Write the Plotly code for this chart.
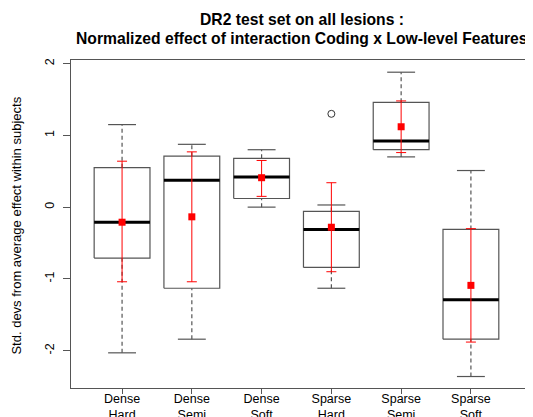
import plotly.graph_objects as go

categories = ["Dense<br>Hard", "Dense<br>Semi", "Dense<br>Soft",
              "Sparse<br>Hard", "Sparse<br>Semi", "Sparse<br>Soft"]
upper_whisker = [1.15, 0.875, 0.80, 0.03, 1.88, 0.51]
q3 = [0.55, 0.71, 0.68, -0.06, 1.46, -0.31]
median = [-0.21, 0.375, 0.42, -0.31, 0.92, -1.29]
q1 = [-0.71, -1.13, 0.12, -0.84, 0.80, -1.84]
lower_whisker = [-2.03, -1.84, 0.0, -1.13, 0.70, -2.36]
means = [-0.21, -0.135, 0.41, -0.28, 1.12, -1.09]
err_hi = [0.64, 0.77, 0.65, 0.34, 1.48, -0.30]
err_lo = [-1.04, -1.04, 0.15, -0.90, 0.76, -1.88]
outlier_cat = [3]          # index of Sparse Hard
outlier_val = [1.30]
y_ticks = [-2, -1, 0, 1, 2]
title_lines = ["DR2 test set on all lesions :",
               "Normalized effect of interaction Coding x Low-level Features"]
y_title = "Std. devs from average effect within subjects"

BOX_HALF = 0.4
STAPLE_HALF = 0.2
FRAME = "#555555"
FONT = "Liberation Sans, Arial, sans-serif"

fig = go.Figure()
xs = list(range(1, len(categories) + 1))

# box outlines
bx, by = [], []
for x, lo, hi in zip(xs, q1, q3):
    bx += [x - BOX_HALF, x + BOX_HALF, x + BOX_HALF, x - BOX_HALF, x - BOX_HALF, None]
    by += [lo, lo, hi, hi, lo, None]
fig.add_trace(go.Scatter(x=bx, y=by, mode="lines", line=dict(color=FRAME, width=1.2),
                         hoverinfo="skip", showlegend=False))

# whiskers (dashed)
wx, wy = [], []
for x, lo, a, b, hi in zip(xs, lower_whisker, q1, q3, upper_whisker):
    wx += [x, x, None, x, x, None]
    wy += [lo, a, None, b, hi, None]
fig.add_trace(go.Scatter(x=wx, y=wy, mode="lines", line=dict(color=FRAME, width=1.2, dash="4px,3px"),
                         hoverinfo="skip", showlegend=False))

# staples
sx, sy = [], []
for x, lo, hi in zip(xs, lower_whisker, upper_whisker):
    sx += [x - STAPLE_HALF, x + STAPLE_HALF, None, x - STAPLE_HALF, x + STAPLE_HALF, None]
    sy += [lo, lo, None, hi, hi, None]
fig.add_trace(go.Scatter(x=sx, y=sy, mode="lines", line=dict(color=FRAME, width=1.2),
                         hoverinfo="skip", showlegend=False))

# medians
mx, my = [], []
for x, m in zip(xs, median):
    mx += [x - BOX_HALF, x + BOX_HALF, None]
    my += [m, m, None]
fig.add_trace(go.Scatter(x=mx, y=my, mode="lines", line=dict(color="black", width=3),
                         hoverinfo="skip", showlegend=False))

# outliers
fig.add_trace(go.Scatter(x=[xs[i] for i in outlier_cat], y=outlier_val, mode="markers",
                         marker=dict(symbol="circle-open", size=7, color="#333333", line=dict(width=1)),
                         showlegend=False))

# means with error bars
fig.add_trace(go.Scatter(
    x=xs, y=means, mode="markers",
    marker=dict(symbol="square", size=7, color="red"),
    error_y=dict(type="data", symmetric=False,
                 array=[h - m for h, m in zip(err_hi, means)],
                 arrayminus=[m - l for m, l in zip(means, err_lo)],
                 color="red", thickness=1, width=5),
    showlegend=False))

# page has an 8px body margin: figure is 525x409 so it fits the 533x417 window
fig.update_layout(
    width=525, height=409,
    margin=dict(l=63, r=0, t=52, b=29, autoexpand=False),
    paper_bgcolor="white", plot_bgcolor="white",
    font=dict(family=FONT, size=12.5, color="black"),
    showlegend=False,
)
fig.update_xaxes(range=[0.268, 6.89], tickmode="array", tickvals=xs, ticktext=categories,
                 automargin=False,
                 showgrid=False, zeroline=False, showline=True, linecolor=FRAME, linewidth=1.2,
                 mirror=True, ticks="outside", ticklen=5, tickcolor=FRAME,
                 ticklabelstandoff=-6, tickfont=dict(size=12.5))
fig.update_yaxes(range=[-2.52, 2.05], tickmode="array", tickvals=y_ticks,
                 ticktext=[str(v) for v in y_ticks], tickangle=-90,
                 automargin=False,
                 showgrid=False, zeroline=False, showline=True, linecolor=FRAME, linewidth=1.2,
                 ticks="outside", ticklen=7, tickcolor=FRAME,
                 ticklabelstandoff=4, tickfont=dict(size=12.5))
fig.add_annotation(text=y_title, textangle=-90,
                   xref="paper", yref="paper", x=-0.117, y=0.495, xanchor="center", yanchor="middle",
                   showarrow=False, font=dict(size=13, color="black"))
for line, ypos in zip(title_lines, [1.122, 1.067]):
    fig.add_annotation(text="<b>" + line + "</b>", xref="paper", yref="paper",
                       x=0.5, y=ypos, xanchor="center", yanchor="middle", showarrow=False,
                       font=dict(family=FONT, size=15.7, color="black"))

fig.write_html("out.html")
